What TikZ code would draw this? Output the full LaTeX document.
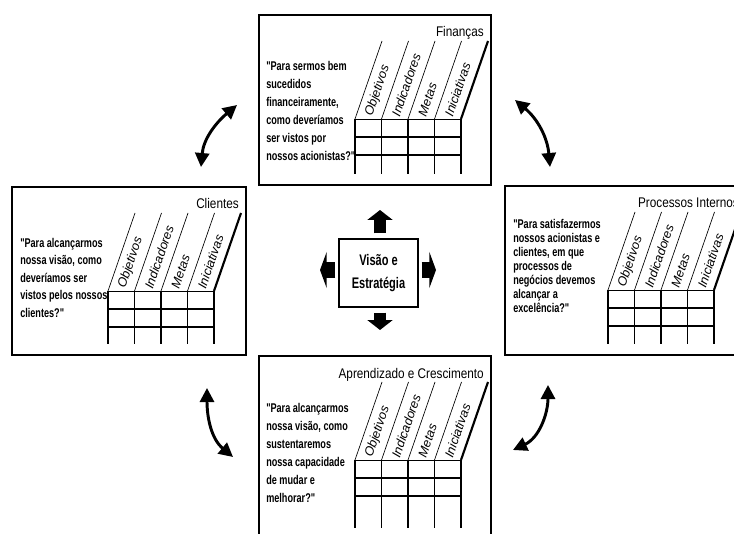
\documentclass[tikz,border=0pt]{standalone}
\usepackage{fontspec}
\usetikzlibrary{arrows.meta}
\newfontfamily\qfont[FakeStretch=0.72]{Liberation Sans}
\newfontfamily\tfont[FakeStretch=0.84]{Liberation Sans}
\newfontfamily\lfont{Liberation Sans}

\tikzset{
	caixa/.style={line width=1.6pt},
	titulo/.style={font=\tfont\fontsize{10.5}{12}\selectfont, inner sep=0pt, anchor=base east},
	pergunta/.style={font=\qfont\bfseries\fontsize{9.5}{13.5}\selectfont, align=left, inner sep=0pt, anchor=north west},
	coluna/.style={font=\lfont\itshape\fontsize{9.5}{11}\selectfont, rotate=71, anchor=west, inner sep=1.5pt},
	blocov/.style={line width=9.4pt, -{Triangle[length=7.5pt,width=18.75pt]}},
	blocoh/.style={line width=12pt, -{Triangle[length=5pt,width=27pt]}},
	dupla/.style={line width=2.2pt, {Triangle[length=10.5pt,width=10.5pt]}-{Triangle[length=10.5pt,width=10.5pt]}}
}

% nome, x, y, largura, altura, recuo da grade, titulo
\newcommand{\painel}[7]{
	\coordinate (#1) at (#2,-#3);
	\draw[caixa] (#1) rectangle ++(#4,-#5);
	\node[titulo] (#1-t) at ([shift={(#4-7,-22)}]#1) {#7};
	% grade
	\foreach \i in {0,...,4}
		\draw[line width=1.2pt] ([shift={(#6+\i*26.5,-104)}]#1) -- ++(0,{-(#5-115)});
	\foreach \i in {0,...,3}
		\draw[line width=0.5pt] ([shift={(#6+\i*26.5,-104)}]#1) -- ++(27,78);
	\draw[line width=1.6pt] ([shift={(#6+106,-104)}]#1) -- ++(27,78);
	\draw[line width=0.6pt] ([shift={(#6,-104)}]#1) -- ++(106,0);
	\draw[line width=1.8pt] ([shift={(#6,-122)}]#1) -- ++(106,0);
	\draw[line width=1pt] ([shift={(#6,-140)}]#1) -- ++(106,0);
	\foreach \rot [count=\i from 0] in {Objetivos,Indicadores,Metas,Iniciativas}
		\node[coluna] (#1-\i) at ([shift={(#6+\i*26.5+13.25,-103)}]#1) {\rot};
}

\begin{document}
\begin{tikzpicture}[x=0.75pt,y=0.75pt]
	\useasboundingbox (0,0) rectangle (734,-534);

	% perspectivas
	\painel{fin}{259}{15}{232}{170}{96}{Finanças}
	\painel{cli}{12}{187}{234}{168}{96}{Clientes}
	\painel{proc}{505}{186}{241}{169}{103}{Processos Internos}
	\painel{apr}{259}{356}{232}{183}{96}{Aprendizado e Crescimento}

	\node[pergunta] (fin-q) at ([shift={(7,-46)}]fin) {"Para sermos bem\\sucedidos\\financeiramente,\\como deveríamos\\ser vistos por\\nossos acionistas?"};
	\node[pergunta, font=\qfont\bfseries\fontsize{9.5}{13.1}\selectfont] (cli-q) at ([shift={(8,-51)}]cli) {"Para alcançarmos\\nossa visão, como\\deveríamos ser\\vistos pelos nossos\\clientes?"};
	\node[pergunta, font=\qfont\bfseries\fontsize{9.5}{10.5}\selectfont] (proc-q) at ([shift={(8,-33)}]proc) {"Para satisfazermos\\nossos acionistas e\\clientes, em que\\processos de\\negócios devemos\\alcançar a\\excelência?"};
	\node[pergunta] (apr-q) at ([shift={(7,-47)}]apr) {"Para alcançarmos\\nossa visão, como\\sustentaremos\\nossa capacidade\\de mudar e\\melhorar?"};

	% centro
	\node[draw, line width=1pt, minimum width=59.25pt, minimum height=51pt, inner sep=0pt, align=center,
		font=\qfont\bfseries\fontsize{11.5}{17}\selectfont] (vis) at (378.5,-273) {Visão e\\Estratégia};

	\coordinate (vis-n) at (380,-210);
	\coordinate (vis-s) at (380,-330);
	\coordinate (vis-w) at (320,-270);
	\coordinate (vis-e) at (436,-270);
	\draw[blocov] ([shift={(1.5,5)}]vis.north) -- (vis-n);
	\draw[blocov] ([shift={(1.5,-5)}]vis.south) -- (vis-s);
	\draw[blocoh] ([shift={(-3,3)}]vis.west) -- (vis-w);
	\draw[blocoh] ([shift={(3,3)}]vis.east) -- (vis-e);

	% setas curvas
	\coordinate (cf-a) at (201,-167);
	\coordinate (cf-b) at (237,-105);
	\coordinate (fp-a) at (515,-100);
	\coordinate (fp-b) at (550,-167);
	\coordinate (ca-a) at (207,-388);
	\coordinate (ca-b) at (233,-457);
	\coordinate (pa-a) at (548,-385);
	\coordinate (pa-b) at (513,-450);
	\draw[dupla] (cf-a) to[out=85, in=220] (cf-b);
	\draw[dupla] (fp-a) to[out=-40, in=95] (fp-b);
	\draw[dupla] (ca-a) to[out=270, in=140] (ca-b);
	\draw[dupla] (pa-a) to[out=270, in=25] (pa-b);
\end{tikzpicture}
\end{document}
